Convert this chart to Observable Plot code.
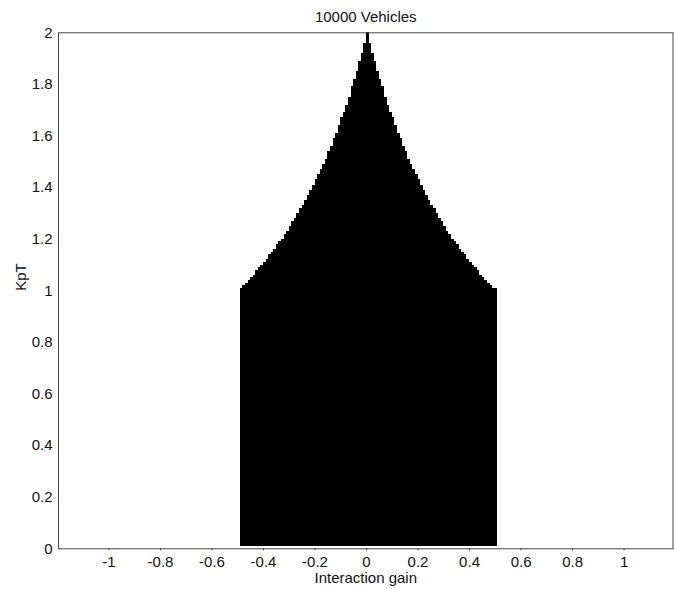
<!DOCTYPE html>
<html>
<head>
<meta charset="utf-8">
<script src="https://cdn.jsdelivr.net/npm/d3@7"></script>
<script src="https://cdn.jsdelivr.net/npm/@observablehq/plot@0.6"></script>
<style>
  html, body { margin: 0; padding: 0; background: #fff; }
  #chart { width: 674px; height: 589px; }
</style>
</head>
<body>
<div id="chart"></div>
<script>
const titleText = "10000 Vehicles";
const xLabelText = "Interaction gain";
const yLabelText = "KpT";

const xTicks = [-1, -0.8, -0.6, -0.4, -0.2, 0, 0.2, 0.4, 0.6, 0.8, 1];
const yTicks = [0, 0.2, 0.4, 0.6, 0.8, 1, 1.2, 1.4, 1.6, 1.8, 2];

// left edge of each interaction-gain cell
const gainCells = [
  -0.49,-0.48,-0.47,-0.46,-0.45,-0.44,-0.43,-0.42,-0.41,-0.40,
  -0.39,-0.38,-0.37,-0.36,-0.35,-0.34,-0.33,-0.32,-0.31,-0.30,
  -0.29,-0.28,-0.27,-0.26,-0.25,-0.24,-0.23,-0.22,-0.21,-0.20,
  -0.19,-0.18,-0.17,-0.16,-0.15,-0.14,-0.13,-0.12,-0.11,-0.10,
  -0.09,-0.08,-0.07,-0.06,-0.05,-0.04,-0.03,-0.02,-0.01, 0.00,
   0.01, 0.02, 0.03, 0.04, 0.05, 0.06, 0.07, 0.08, 0.09, 0.10,
   0.11, 0.12, 0.13, 0.14, 0.15, 0.16, 0.17, 0.18, 0.19, 0.20,
   0.21, 0.22, 0.23, 0.24, 0.25, 0.26, 0.27, 0.28, 0.29, 0.30,
   0.31, 0.32, 0.33, 0.34, 0.35, 0.36, 0.37, 0.38, 0.39, 0.40,
   0.41, 0.42, 0.43, 0.44, 0.45, 0.46, 0.47, 0.48, 0.49, 0.50
];

// highest stable KpT for each gain cell
const kptMax = [
  1.01,1.02,1.03,1.04,1.05,1.06,1.08,1.09,1.10,1.11,
  1.12,1.14,1.15,1.16,1.18,1.19,1.20,1.22,1.23,1.25,
  1.27,1.28,1.30,1.32,1.33,1.35,1.37,1.39,1.41,1.43,
  1.45,1.47,1.49,1.51,1.54,1.56,1.59,1.61,1.64,1.67,
  1.69,1.72,1.75,1.79,1.82,1.85,1.89,1.92,1.96,2.00,
  1.96,1.92,1.89,1.85,1.82,1.79,1.75,1.72,1.69,1.67,
  1.64,1.61,1.59,1.56,1.54,1.51,1.49,1.47,1.45,1.43,
  1.41,1.39,1.37,1.35,1.33,1.32,1.30,1.28,1.27,1.25,
  1.23,1.22,1.20,1.19,1.18,1.16,1.15,1.14,1.12,1.11,
  1.10,1.09,1.08,1.06,1.05,1.04,1.03,1.02,1.01,1.01
];
const kptMin = 0.01;
const cellWidth = 0.01;

const cells = gainCells.map((g, i) => ({g, h: kptMax[i]}));
const fmt = d => String(+d.toFixed(2));

const svg = Plot.plot({
  width: 674,
  height: 589,
  marginLeft: 58,
  marginRight: 1.5,
  marginTop: 32.3,
  marginBottom: 40.7,
  style: {
    fontFamily: '"Liberation Sans", Arial, Helvetica, sans-serif',
    fontSize: "15px",
    color: "#111",
    background: "#fff",
    overflow: "visible"
  },
  x: {domain: [-1.196, 1.19]},
  y: {domain: [0, 2]},
  marks: [
    Plot.rect(cells, {
      x1: "g",
      x2: d => d.g + cellWidth,
      y1: kptMin,
      y2: "h",
      fill: "#000",
      shapeRendering: "crispEdges"
    }),
    Plot.frame({stroke: "#444", strokeWidth: 1}),
    Plot.axisX({ticks: xTicks, tickFormat: fmt, tickSize: 2, tickPadding: 5.5, label: null, stroke: "#444"}),
    Plot.axisY({ticks: yTicks, tickFormat: fmt, tickSize: 0, tickPadding: 6, label: null}),
    Plot.text([titleText], {frameAnchor: "top", dy: -21, text: d => d}),
    Plot.text([xLabelText], {frameAnchor: "bottom", dy: 34.5, text: d => d}),
    Plot.text([yLabelText], {frameAnchor: "left", dx: -37, rotate: -90, text: d => d})
  ]
});
document.getElementById("chart").appendChild(svg);
</script>
</body>
</html>
